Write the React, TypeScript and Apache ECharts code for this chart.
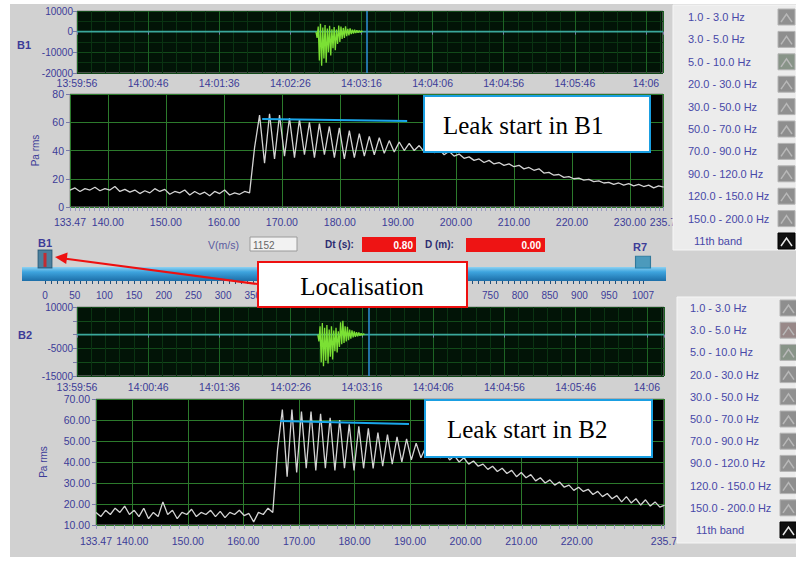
import React, { useEffect, useRef } from 'react';
import * as echarts from 'echarts';

// ---------------- data ----------------
const rawTickSeconds = [0, 50, 100, 150, 200, 250, 300, 350, 400];
const rawTickLabels = ['13:59:56', '14:00:46', '14:01:36', '14:02:26', '14:03:16', '14:04:06', '14:04:56', '14:05:46', '14:06'];
const rawSpan = 412;
const rawBaseline = [[0, 0], [412, 0]];

const b1RawLabeled = [-20000, -10000, 0, 10000];
const b2RawLabeled = [10000, -5000, -15000];

const burstStep = 0.8;
const b1BurstStart = 168;
const b1Burst = [0, -3000, 2500, -14000, 3800, -16500, 2000, -13000, 3200, -15000, 1500, -10000, 2800, -11500, 1200, -8000, 2200, -9000, 1000, -6000, 3000, -5000, 2500, -3500, 1800, -3000, 2600, -2200, 1400, -1800, 1600, -1200, 1000, -900, 900, -700, 700, -500, 500, -300, 300, 0];
const b2BurstStart = 169;
const b2Burst = [0, -2500, 3000, -10000, 4200, -11500, 2500, -9500, 3500, -10500, 1800, -8000, 3000, -9000, 1500, -6000, 2500, -6500, 1200, -4500, 4500, -3500, 5000, -3000, 3000, -2500, 2800, -2000, 1800, -1500, 1500, -1000, 1200, -800, 900, -600, 800, -400, 500, -300, 300, 0];
const b1Cursor = 204;
const b2Cursor = 205;

const rmsStart = 133.47;
const rmsEnd = 235.7;
const rmsStep = 0.86;
const b1RmsTicks = [133.47, 140, 150, 160, 170, 180, 190, 200, 210, 220, 230, 235.7];
const b2RmsTicks = [133.47, 140, 150, 160, 170, 180, 190, 200, 210, 220, 235.7];
const b1Rms = [
  12, 13.5, 11, 13, 12, 14, 11.5, 13, 12, 14.5, 11, 12.5, 10.5, 12, 9.5, 11.5, 10, 13, 11, 12.5,
  9, 11, 10, 12, 8.5, 11, 9, 10.5, 8, 11, 9.5, 12, 8.5, 10, 9, 11, 10, 42, 65, 31,
  66, 34, 65, 36, 63, 35, 62, 37, 60, 35, 59, 37, 57, 35, 56, 34, 54, 35, 52, 36,
  50, 37, 49, 38, 47, 39, 46, 40, 45, 40, 43.5, 39, 42, 38.5, 41, 37, 39.5, 36, 37.5, 34.5,
  35.5, 33, 34, 31.5, 33, 30.5, 31.5, 29.5, 30.5, 28.5, 29.5, 27, 28, 26, 27, 24, 24.5, 22.5, 23, 21,
  21.5, 20, 20.5, 19, 19.5, 18, 18.5, 17, 17.5, 16, 17, 15.5, 16.5, 15, 16, 14.5, 15.5, 13.5, 15, 14,
];
const b2Rms = [
  16, 14, 17, 15, 18, 16, 19, 15, 17, 14, 18, 13, 16, 14, 21, 15, 17, 13, 16, 15,
  17.5, 14, 16, 15, 17, 14, 16.5, 13.5, 16, 15, 17, 14.5, 15.5, 11.5, 16, 15, 18, 16, 46, 65,
  33, 65, 35, 64, 37, 64, 36, 63, 37, 61, 36, 60, 37, 58, 36, 57, 37, 56, 37, 54,
  38, 53, 39, 52, 40, 51, 41, 49, 42, 47, 42, 46, 42, 45, 41, 43, 40, 42, 39, 40.5,
  38, 39, 36.5, 38, 35.5, 37, 34.5, 36, 33, 35, 32.5, 34, 31, 32.5, 30, 31.5, 29, 30.5, 28, 29,
  26.5, 28, 26, 27, 24.5, 26, 23.5, 25, 22.5, 24, 21, 23.5, 20.5, 22.5, 19.5, 22, 19, 21, 18.5, 19.5,
];
const b1LeakLine = [[166.6, 62.3], [191.6, 60.9]];
const b2LeakLine = [[166.6, 59.5], [189.8, 58.1]];

// slider scale: labels 400-700 lie behind the "Localisation" box in the reference
const sliderLabelTicks = [0, 50, 100, 150, 200, 250, 300, 350, 750, 800, 850, 900, 950, 1007];
const sliderMax = 1007;
const sliderThumbs = [0, 1007];

const bandLabels = ['1.0 - 3.0 Hz', '3.0 - 5.0 Hz', '5.0 - 10.0 Hz', '20.0 - 30.0 Hz', '30.0 - 50.0 Hz', '50.0 - 70.0 Hz', '70.0 - 90.0 Hz', '90.0 - 120.0 Hz', '120.0 - 150.0 Hz', '150.0 - 200.0 Hz', '11th band'];

// ---------------- styles ----------------
const NAVY = '#3c3c98';
const FONT = 'Liberation Sans, Arial, sans-serif';
const SERIF = 'Liberation Serif, Times New Roman, serif';
const GRAY = '#d1d1d1';
const p1Tints = ['#909090', '#8e8e8e', '#889488', '#8e8e8e', '#909090', '#8e8e8e', '#8e8e8e', '#909090', '#8e8e8e', '#909090', '#101010'];
const p2Tints = ['#8e8e8e', '#988888', '#889488', '#8e8e8e', '#909090', '#8e8e8e', '#8e8e8e', '#909090', '#8e8e8e', '#909090', '#101010'];

const seq = (start: number, step: number, vals: number[]) => vals.map((v, i) => [+(start + i * step).toFixed(3), v]);

const rawFmt = (v: number) => {
  const i = rawTickSeconds.indexOf(v);
  return i >= 0 ? rawTickLabels[i] : '';
};
const rmsFmt = (v: number) => (v === 133.47 ? '133.47' : v === 235.7 ? '235.7' : v.toFixed(2));

const label = (extra: any = {}) => ({ color: NAVY, fontFamily: FONT, fontSize: 10.5, ...extra });

function legendPanel(px: number, py: number, pw: number, ph: number, tx: number, y0: number, step: number, sx: number, tints: string[]) {
  const els: any[] = [
    { type: 'rect', z: 50, shape: { x: px, y: py, width: pw, height: ph }, style: { fill: '#ececec', stroke: '#f6f6f6', lineWidth: 1 } },
  ];
  bandLabels.forEach((t, i) => {
    const y = y0 + i * step;
    const last = i === bandLabels.length - 1;
    els.push({ type: 'text', z: 51, x: last ? tx + 6 : tx, y, style: { text: t, fill: '#4848a8', font: `11px ${FONT}`, textAlign: 'left', textVerticalAlign: 'middle' } });
    els.push({ type: 'rect', z: 51, shape: { x: sx, y: y - 8, width: 17, height: 16 }, style: { fill: tints[i], stroke: last ? '#000' : '#b4b4b4', lineWidth: 1 } });
    els.push({ type: 'polyline', z: 52, shape: { points: [[sx + 3, y + 5], [sx + 8.5, y - 3], [sx + 14, y + 5]] }, style: { stroke: last ? '#e8e8e8' : '#b8b8b8', lineWidth: 1.5, fill: null } });
  });
  return els;
}

export default function App() {
  const ref = useRef<HTMLDivElement>(null);
  useEffect(() => {
    if (!ref.current) return;
    const chart = echarts.init(ref.current, null, { renderer: 'svg' });

    const rawX = (gridIndex: number, margin: number) => ({
      type: 'value', gridIndex, min: 0, max: rawSpan, interval: 50,
      axisLine: { show: false },
      axisTick: { show: true, length: 3, lineStyle: { color: '#7a7aa8' } },
      axisLabel: label({ formatter: rawFmt, margin }),
      splitLine: { show: true, lineStyle: { color: '#1d6424', width: 1 } },
      minorTick: { show: false, splitNumber: 5 },
      minorSplitLine: { show: true, lineStyle: { color: '#0a3312', width: 1 } },
    });
    const rmsX = (gridIndex: number, ticks: number[], margin: number) => ({
      type: 'value', gridIndex, min: rmsStart, max: rmsEnd,
      axisLine: { show: false },
      axisTick: { show: false, customValues: ticks },
      axisLabel: label({ customValues: ticks, formatter: rmsFmt, margin }),
      splitLine: { show: true, lineStyle: { color: '#2c7a2c', width: 1 } },
    });
    const minorX = (gridIndex: number, min: number, max: number, interval: number, color: string, length: number) => ({
      type: 'value', gridIndex, min, max, interval, position: 'bottom',
      axisLine: { show: false }, axisLabel: { show: false }, splitLine: { show: false },
      axisTick: { show: true, length, lineStyle: { color } },
    });

    const option: any = {
      animation: false,
      backgroundColor: GRAY,
      grid: [
        { left: 77, top: 11, width: 586, height: 62, show: true, backgroundColor: '#021407', borderColor: '#8a8a8a', borderWidth: 1 },
        { left: 70, top: 94, width: 593, height: 113, show: true, backgroundColor: '#000000', borderColor: '#8a8a8a', borderWidth: 1 },
        { left: 77, top: 307, width: 587, height: 69, show: true, backgroundColor: '#021407', borderColor: '#8a8a8a', borderWidth: 1 },
        { left: 96, top: 399, width: 568, height: 126, show: true, backgroundColor: '#000000', borderColor: '#8a8a8a', borderWidth: 1 },
        { left: 45, top: 250, width: 598, height: 31, show: false },
      ],
      xAxis: [
        rawX(0, 4),
        rmsX(1, b1RmsTicks, 9),
        minorX(1, rmsStart, rmsEnd, 0.8333, '#9a9ac0', 4),
        rawX(2, 5),
        rmsX(3, b2RmsTicks, 10),
        minorX(3, rmsStart, rmsEnd, 1.6667, '#9a9ac0', 4),
        {
          type: 'value', gridIndex: 4, min: 0, max: sliderMax,
          axisLine: { show: false }, axisTick: { show: false, customValues: sliderLabelTicks },
          axisLabel: label({ customValues: sliderLabelTicks, fontSize: 10, margin: 9, formatter: (v: number) => String(v) }),
          splitLine: { show: false },
        },
        minorX(4, 0, sliderMax, 10, '#24507a', 3),
      ],
      yAxis: [
        {
          type: 'value', gridIndex: 0, min: -20000, max: 10000, interval: 10000,
          axisLine: { show: false },
          axisTick: { show: true, length: 4, lineStyle: { color: '#7a7aa8' } },
          axisLabel: label({ fontSize: 10, margin: 4, formatter: (v: number) => (b1RawLabeled.includes(v) ? String(v) : '') }),
          splitLine: { show: true, lineStyle: { color: '#124a1a' } },
          minorTick: { show: false, splitNumber: 2 },
          minorSplitLine: { show: true, lineStyle: { color: '#0a3312' } },
        },
        {
          type: 'value', gridIndex: 1, min: 0, max: 80, interval: 20,
          name: 'Pa rms', nameLocation: 'middle', nameGap: 30,
          nameTextStyle: { color: NAVY, fontFamily: FONT, fontSize: 10 },
          axisLine: { show: false },
          axisTick: { show: true, length: 4, lineStyle: { color: '#7a7aa8' } },
          axisLabel: label({ margin: 6 }),
          splitLine: { show: true, lineStyle: { color: '#2c7a2c' } },
        },
        {
          type: 'value', gridIndex: 2, min: -15000, max: 10000, interval: 5000,
          axisLine: { show: false },
          axisTick: { show: true, length: 4, lineStyle: { color: '#7a7aa8' } },
          axisLabel: label({ fontSize: 10, margin: 4, formatter: (v: number) => (b2RawLabeled.includes(v) ? String(v) : '') }),
          splitLine: { show: true, lineStyle: { color: '#124a1a' } },
        },
        {
          type: 'value', gridIndex: 3, min: 10, max: 70, interval: 10,
          name: 'Pa rms', nameLocation: 'middle', nameGap: 48,
          nameTextStyle: { color: NAVY, fontFamily: FONT, fontSize: 10 },
          axisLine: { show: false },
          axisTick: { show: true, length: 4, lineStyle: { color: '#7a7aa8' } },
          axisLabel: label({ margin: 6, formatter: (v: number) => v.toFixed(2) }),
          splitLine: { show: true, lineStyle: { color: '#2c7a2c' } },
        },
        { type: 'value', gridIndex: 4, min: 0, max: 1, show: false },
      ],
      series: [
        {
          type: 'line', xAxisIndex: 0, yAxisIndex: 0, data: rawBaseline, symbol: 'none',
          lineStyle: { color: '#3aa89c', width: 1.6 }, silent: true,
          markLine: { silent: true, symbol: 'none', label: { show: false }, lineStyle: { color: '#2e90d8', width: 1.5, type: 'solid' }, data: [{ xAxis: b1Cursor }] },
        },
        { type: 'line', xAxisIndex: 0, yAxisIndex: 0, data: seq(b1BurstStart, burstStep, b1Burst), symbol: 'none', lineStyle: { color: '#7be034', width: 1.3 }, silent: true },
        { type: 'line', xAxisIndex: 1, yAxisIndex: 1, data: seq(rmsStart, rmsStep, b1Rms), symbol: 'none', lineStyle: { color: '#d4d4d4', width: 1.3 }, silent: true },
        { type: 'line', xAxisIndex: 1, yAxisIndex: 1, data: b1LeakLine, symbol: 'none', lineStyle: { color: '#1aa6ea', width: 2 }, silent: true },
        {
          type: 'line', xAxisIndex: 3, yAxisIndex: 2, data: rawBaseline, symbol: 'none',
          lineStyle: { color: '#3aa89c', width: 1.6 }, silent: true,
          markLine: { silent: true, symbol: 'none', label: { show: false }, lineStyle: { color: '#2e90d8', width: 1.5, type: 'solid' }, data: [{ xAxis: b2Cursor }] },
        },
        { type: 'line', xAxisIndex: 3, yAxisIndex: 2, data: seq(b2BurstStart, burstStep, b2Burst), symbol: 'none', lineStyle: { color: '#7be034', width: 1.3 }, silent: true },
        { type: 'line', xAxisIndex: 4, yAxisIndex: 3, data: seq(rmsStart, rmsStep, b2Rms), symbol: 'none', lineStyle: { color: '#d4d4d4', width: 1.3 }, silent: true },
        { type: 'line', xAxisIndex: 4, yAxisIndex: 3, data: b2LeakLine, symbol: 'none', lineStyle: { color: '#1aa6ea', width: 2 }, silent: true },
        {
          type: 'scatter', xAxisIndex: 6, yAxisIndex: 4, symbol: 'rect', clip: false, silent: true, z: 5,
          data: [
            { value: [sliderThumbs[0], 0.71], symbolSize: [14, 18], itemStyle: { color: '#2c6c90', borderColor: '#1c4c6c', borderWidth: 1 } },
            { value: [sliderThumbs[1], 0.61], symbolSize: [15, 12], itemStyle: { color: '#2a8cb6', borderColor: '#1c6a90', borderWidth: 1 } },
          ],
        },
        {
          type: 'scatter', xAxisIndex: 6, yAxisIndex: 4, symbol: 'rect', clip: false, silent: true, z: 6,
          data: [{ value: [sliderThumbs[0], 0.68], symbolSize: [3, 14], itemStyle: { color: '#e01818' } }],
        },
      ],
      graphic: [
        // page margins
        { type: 'rect', z: 90, shape: { x: 0, y: 0, width: 10, height: 561 }, style: { fill: '#ffffff' } },
        { type: 'rect', z: 90, shape: { x: 0, y: 0, width: 796, height: 4 }, style: { fill: '#ffffff' } },
        { type: 'rect', z: 90, shape: { x: 0, y: 557, width: 796, height: 4 }, style: { fill: '#ffffff' } },
        // legends
        ...legendPanel(673, 5, 123, 245, 688, 17, 22.4, 778, p1Tints),
        ...legendPanel(677, 297, 119, 246, 690, 308, 22.2, 780, p2Tints),
        // channel labels
        { type: 'text', z: 20, x: 24, y: 45, style: { text: 'B1', fill: NAVY, font: `bold 11px ${FONT}`, textAlign: 'center', textVerticalAlign: 'middle' } },
        { type: 'text', z: 20, x: 25, y: 335, style: { text: 'B2', fill: NAVY, font: `bold 11px ${FONT}`, textAlign: 'center', textVerticalAlign: 'middle' } },
        // parameter row
        { type: 'text', z: 20, x: 208, y: 245, style: { text: 'V(m/s)', fill: '#5a5aa0', font: `10.5px ${FONT}`, textAlign: 'left', textVerticalAlign: 'middle' } },
        { type: 'rect', z: 20, shape: { x: 250, y: 237, width: 47, height: 14 }, style: { fill: '#f2f2f2', stroke: '#9a9a9a', lineWidth: 1 } },
        { type: 'text', z: 21, x: 253, y: 245, style: { text: '1152', fill: '#666666', font: `10px ${FONT}`, textAlign: 'left', textVerticalAlign: 'middle' } },
        { type: 'text', z: 20, x: 325, y: 244, style: { text: 'Dt (s):', fill: '#2c2c70', font: `bold 10px ${FONT}`, textAlign: 'left', textVerticalAlign: 'middle' } },
        { type: 'rect', z: 20, shape: { x: 362, y: 237, width: 54, height: 15 }, style: { fill: '#ee1414' } },
        { type: 'text', z: 21, x: 413, y: 245, style: { text: '0.80', fill: '#ffffff', font: `bold 10px ${FONT}`, textAlign: 'right', textVerticalAlign: 'middle' } },
        { type: 'text', z: 20, x: 425, y: 244, style: { text: 'D (m):', fill: '#2c2c70', font: `bold 10px ${FONT}`, textAlign: 'left', textVerticalAlign: 'middle' } },
        { type: 'rect', z: 20, shape: { x: 466, y: 238, width: 79, height: 14 }, style: { fill: '#ee1414' } },
        { type: 'text', z: 21, x: 541, y: 245, style: { text: '0.00', fill: '#ffffff', font: `bold 10px ${FONT}`, textAlign: 'right', textVerticalAlign: 'middle' } },
        // slider bar
        {
          type: 'rect', z: 1, shape: { x: 22, y: 267, width: 644, height: 14 },
          style: {
            fill: new echarts.graphic.LinearGradient(0, 0, 0, 1, [
              { offset: 0, color: '#8ed2f2' }, { offset: 0.35, color: '#3ea4de' }, { offset: 1, color: '#1c6ea8' },
            ]),
          },
        },
        { type: 'text', z: 20, x: 45, y: 243, style: { text: 'B1', fill: NAVY, font: `bold 11px ${FONT}`, textAlign: 'center', textVerticalAlign: 'middle' } },
        { type: 'text', z: 20, x: 640, y: 247, style: { text: 'R7', fill: NAVY, font: `bold 11px ${FONT}`, textAlign: 'center', textVerticalAlign: 'middle' } },
        // localisation annotation
        { type: 'rect', z: 100, shape: { x: 258, y: 262, width: 209, height: 45 }, style: { fill: '#ffffff', stroke: '#ee1010', lineWidth: 2 } },
        { type: 'text', z: 101, x: 362, y: 286, style: { text: 'Localisation', fill: '#000000', font: `25px ${SERIF}`, textAlign: 'center', textVerticalAlign: 'middle' } },
        { type: 'line', z: 101, shape: { x1: 257, y1: 284, x2: 64, y2: 258.5 }, style: { stroke: '#ee1010', lineWidth: 2 } },
        { type: 'polygon', z: 101, shape: { points: [[55, 257], [67.6, 252.6], [66.2, 264]] }, style: { fill: '#ee1010' } },
        // leak annotations
        { type: 'rect', z: 100, shape: { x: 424, y: 96, width: 226, height: 56 }, style: { fill: '#ffffff', stroke: '#1a9fe2', lineWidth: 2 } },
        { type: 'text', z: 101, x: 443, y: 125, style: { text: 'Leak start in B1', fill: '#000000', font: `25px ${SERIF}`, textAlign: 'left', textVerticalAlign: 'middle' } },
        { type: 'rect', z: 100, shape: { x: 425, y: 400, width: 227, height: 57 }, style: { fill: '#ffffff', stroke: '#1a9fe2', lineWidth: 2 } },
        { type: 'text', z: 101, x: 447, y: 429, style: { text: 'Leak start in B2', fill: '#000000', font: `25px ${SERIF}`, textAlign: 'left', textVerticalAlign: 'middle' } },
      ],
    };
    chart.setOption(option);
    return () => chart.dispose();
  }, []);
  return <div ref={ref} style={{ position: 'fixed', left: 0, top: 0, width: 796, height: 561 }} />;
}
